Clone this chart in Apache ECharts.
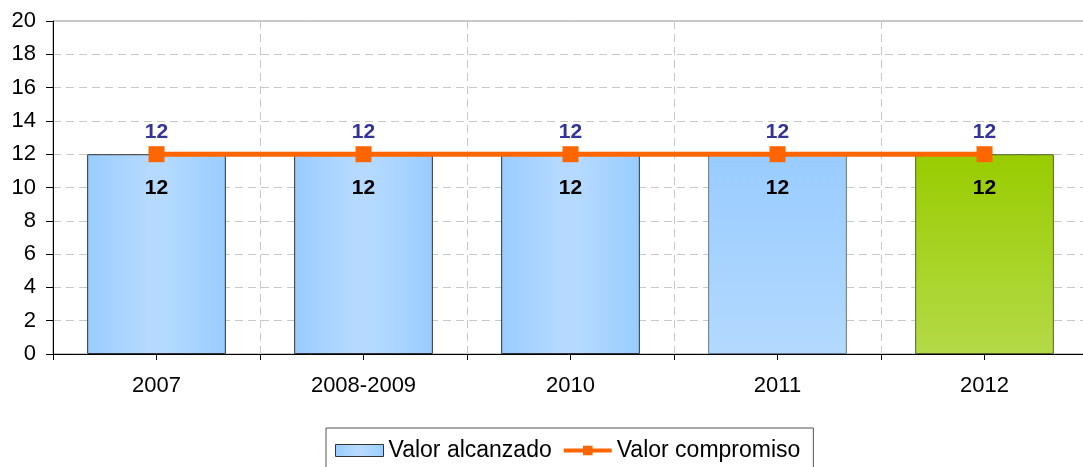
<!DOCTYPE html>
<html>
<head>
<meta charset="utf-8">
<script src="https://cdn.jsdelivr.net/npm/echarts@6/dist/echarts.min.js"></script>
<style>
  html, body { margin: 0; padding: 0; background: #fff; }
  #chart { width: 1083px; height: 467px; }
</style>
</head>
<body>
<div id="chart"></div>
<script>
  const categories = ['2007', '2008-2009', '2010', '2011', '2012'];
  const valorAlcanzado = [12, 12, 12, 12, 12];
  const valorCompromiso = [12, 12, 12, 12, 12];

  const font = 'Liberation Sans, Arial, sans-serif';

  function hGrad(edge, mid) {
    return new echarts.graphic.LinearGradient(0, 0, 1, 0, [
      { offset: 0, color: edge },
      { offset: 0.45, color: mid },
      { offset: 0.55, color: mid },
      { offset: 1, color: edge }
    ]);
  }

  function vGrad(top, bottom) {
    return new echarts.graphic.LinearGradient(0, 0, 0, 1, [
      { offset: 0, color: top },
      { offset: 1, color: bottom }
    ]);
  }

  const barFills = [
    hGrad('#99CCFF', '#B6DAFF'),
    hGrad('#99CCFF', '#B6DAFF'),
    hGrad('#99CCFF', '#B6DAFF'),
    vGrad('#99CCFF', '#B3D9FF'),
    vGrad('#99CC00', '#B4DA48')
  ];
  const barBorders = ['#333', '#333', '#333', '#66788a', '#556030'];

  const instance = echarts.init(document.getElementById('chart'), null, { renderer: 'canvas' });

  const option = {
    animation: false,
    textStyle: { fontFamily: font },
    grid: {
      left: 53,
      top: 21,
      width: 1035,
      height: 333,
      outerBoundsMode: 'none',
      containLabel: false,
      show: true,
      borderColor: '#909090',
      borderWidth: 1
    },
    legend: {
      left: 326,
      top: 428,
      width: 487,
      padding: [11, 13, 14, 9],
      borderColor: '#555',
      borderWidth: 1,
      itemWidth: 48,
      itemHeight: 12,
      itemGap: 10,
      textStyle: { fontSize: 23, color: '#000', fontFamily: font },
      data: [
        { name: 'Valor alcanzado', icon: 'rect', itemStyle: { borderColor: '#333', borderWidth: 1 } },
        { name: 'Valor compromiso', lineStyle: { width: 4 } }
      ]
    },
    xAxis: [
      {
        type: 'category',
        data: categories,
        axisLine: { show: true, lineStyle: { color: '#000', width: 1 } },
        axisTick: { show: true, alignWithLabel: true, length: 6, lineStyle: { color: '#000' } },
        axisLabel: { fontSize: 22, color: '#000', margin: 21, fontFamily: font },
        splitLine: { show: false }
      },
      {
        type: 'category',
        data: categories,
        position: 'bottom',
        axisLine: { show: false },
        axisTick: { show: true, length: 6, lineStyle: { color: '#000' } },
        axisLabel: { show: false },
        splitLine: { show: true, lineStyle: { color: '#c8c8c8', type: [8, 5] } }
      }
    ],
    yAxis: {
      type: 'value',
      min: 0,
      max: 20,
      interval: 2,
      axisLine: { show: true, lineStyle: { color: '#000', width: 1 } },
      axisTick: { show: true, length: 7, lineStyle: { color: '#000' } },
      axisLabel: { fontSize: 22, color: '#000', margin: 17, fontFamily: font },
      splitLine: { show: true, lineStyle: { color: '#c8c8c8', type: [8, 5] } }
    },
    series: [
      {
        name: 'Valor alcanzado',
        type: 'bar',
        barWidth: '67%',
        itemStyle: { color: barFills[0], borderColor: '#333', borderWidth: 1 },
        label: {
          show: true,
          position: 'insideTop',
          distance: 24,
          fontSize: 21,
          fontWeight: 'bold',
          color: '#000',
          fontFamily: font
        },
        data: valorAlcanzado.map((v, i) => ({
          value: v,
          itemStyle: { color: barFills[i], borderColor: barBorders[i] }
        }))
      },
      {
        name: 'Valor compromiso',
        type: 'line',
        symbol: 'rect',
        symbolSize: 16,
        itemStyle: { color: '#FF6600' },
        lineStyle: { color: '#FF6600', width: 5 },
        label: {
          show: true,
          position: 'top',
          distance: 3,
          fontSize: 21,
          fontWeight: 'bold',
          color: '#333399',
          fontFamily: font
        },
        data: valorCompromiso
      }
    ]
  };

  instance.setOption(option);
</script>
</body>
</html>
